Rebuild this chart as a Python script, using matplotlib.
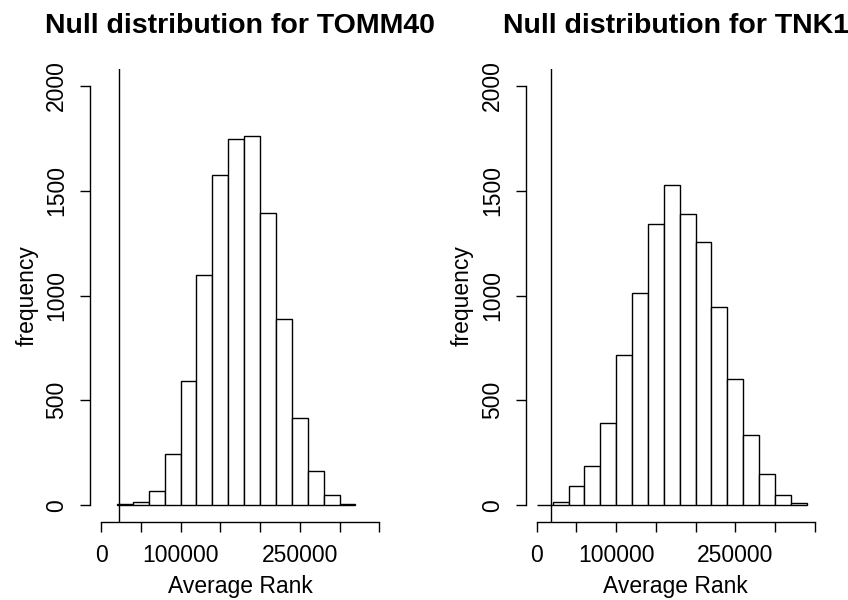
import matplotlib
matplotlib.use("Agg")
import matplotlib.pyplot as plt
import numpy as np

plt.rcParams["font.family"] = ["Liberation Sans", "DejaVu Sans"]

# bin width of 20000 ranks, counts
bin_width = 20000
tomm40_left = np.arange(20000, 320000, bin_width)
tomm40_counts = [4, 16, 67, 243, 590, 1097, 1573, 1744, 1761, 1392, 888, 415, 162, 48, 6]
tomm40_observed = 23000

tnk1_left = np.arange(0, 340000, bin_width)
tnk1_counts = [1, 14, 94, 189, 392, 715, 1010, 1343, 1525, 1389, 1254, 945, 601, 336, 149, 51, 11]
tnk1_observed = 18000

x_ticks = np.arange(0, 350001, 50000)
x_labels = ["0", "", "100000", "", "", "250000", "", ""]
y_ticks = [0, 500, 1000, 1500, 2000]

W, H = 848, 600
fig = plt.figure(figsize=(W / 100, H / 100), dpi=100, facecolor="white")


def panel(left_px, right_px, lefts, counts, observed, gene):
    ax = fig.add_axes([left_px / W, (H - 522) / H, (right_px - left_px) / W, (522 - 69) / H])
    ax.bar(lefts, counts, width=bin_width, align="edge", facecolor="white",
           edgecolor="black", linewidth=1.0)
    ax.axvline(observed, color="black", linewidth=1.0)
    ax.set_xlim(-14000, 364000)
    ax.set_ylim(-80, 2080)
    for s in ("top", "right"):
        ax.spines[s].set_visible(False)
    ax.spines["bottom"].set_bounds(0, 350000)
    ax.spines["left"].set_bounds(0, 2000)
    ax.spines["bottom"].set_linewidth(1.0)
    ax.spines["left"].set_linewidth(1.0)
    ax.set_xticks(x_ticks)
    ax.set_xticklabels(x_labels)
    ax.set_yticks(y_ticks)
    ax.set_yticklabels([str(v) for v in y_ticks], rotation=90, va="center")
    ax.tick_params(axis="both", length=7.2, width=1.0, labelsize=16.5, pad=8.5)
    ax.set_xlabel("Average Rank", fontsize=16.5, labelpad=6)
    ax.set_ylabel("frequency", fontsize=16.5, labelpad=5)
    ax.set_title(f"Null distribution for {gene}", fontsize=20.5, fontweight="bold", pad=25.7)
    return ax


panel(90, 390.4, tomm40_left, tomm40_counts, tomm40_observed, "TOMM40")
panel(525.7, 825.7, tnk1_left, tnk1_counts, tnk1_observed, "TNK1")

fig.savefig("out.png", dpi=100)
